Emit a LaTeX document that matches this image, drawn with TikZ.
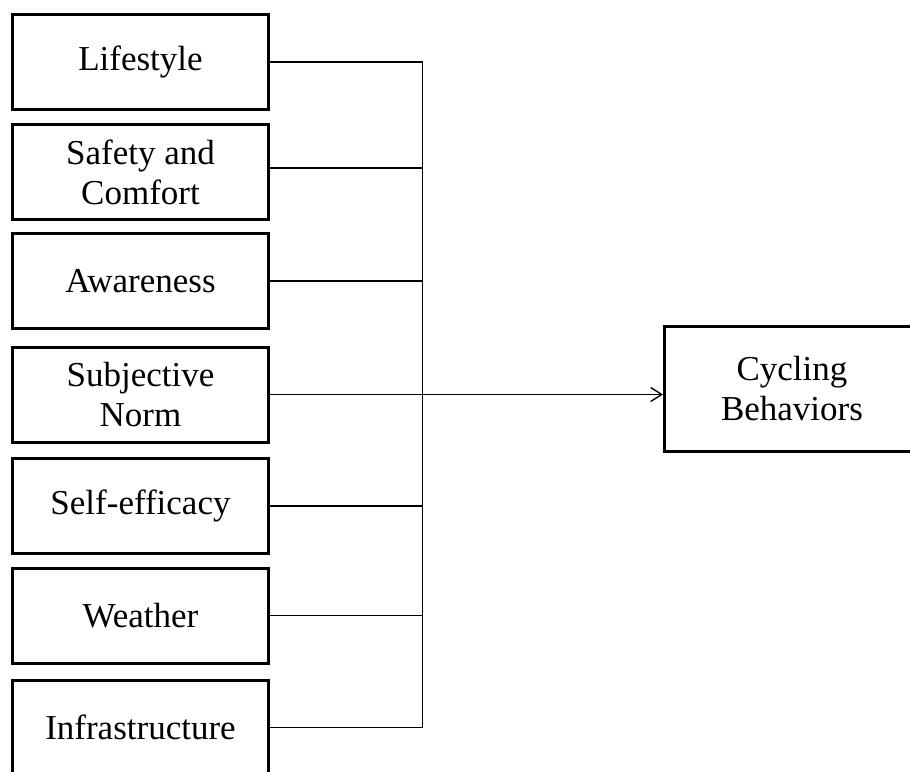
\documentclass[tikz,border=0pt]{standalone}
\usepackage{fontspec}
\setmainfont{Liberation Serif}
\usetikzlibrary{arrows.meta,calc}
\begin{document}
\begin{tikzpicture}[x=1pt,y=-1pt,
  factor/.style={draw=black,line width=3pt,minimum width=256pt,minimum height=95pt,
    inner sep=0pt,align=center,font=\fontsize{35}{40}\selectfont},
  outbox/.style={draw=black,line width=3pt,minimum width=255pt,minimum height=125pt,
    inner sep=0pt,align=center,font=\fontsize{35}{40}\selectfont},
  link/.style={draw=black,line width=1.4pt}]
\useasboundingbox (0,0) rectangle (910,771);
\clip (0,0) rectangle (910,771);
\fill[white] (0,0) rectangle (910,771);
\node[factor] (b1) at (140.5,62) {Lifestyle};
\node[factor] (b2) at (140.5,172) {Safety and\\Comfort};
\node[factor] (b3) at (140.5,281) {Awareness};
\node[factor] (b4) at (140.5,394.5) {Subjective\\Norm};
\node[factor] (b5) at (140.5,506) {Self-efficacy};
\node[factor] (b6) at (140.5,615.5) {Weather};
\node[factor] (b7) at (140.5,727.5) {Infrastructure};
\node[outbox] (out) at (792,389) {Cycling\\Behaviors};
\coordinate (top) at (422.7,62);
\coordinate (bot) at (422.7,727.5);
\draw[link] (top) -- (bot);
\draw[link] (b1.east) -- (b1.east -| top);
\draw[link] ($(b2.east)+(0,-4)$) -- ($(b2.east -| top)+(0,-4)$);
\draw[link] (b3.east) -- (b3.east -| top);
\draw[link] (b5.east) -- (b5.east -| top);
\draw[link] (b6.east) -- (b6.east -| top);
\draw[link] (b7.east) -- (b7.east -| top);
\draw[link,-{Straight Barb[length=11pt,width=14pt,line width=1.4pt]}] (b4.east) -- (b4.east -| out.west);
\end{tikzpicture}
\end{document}
